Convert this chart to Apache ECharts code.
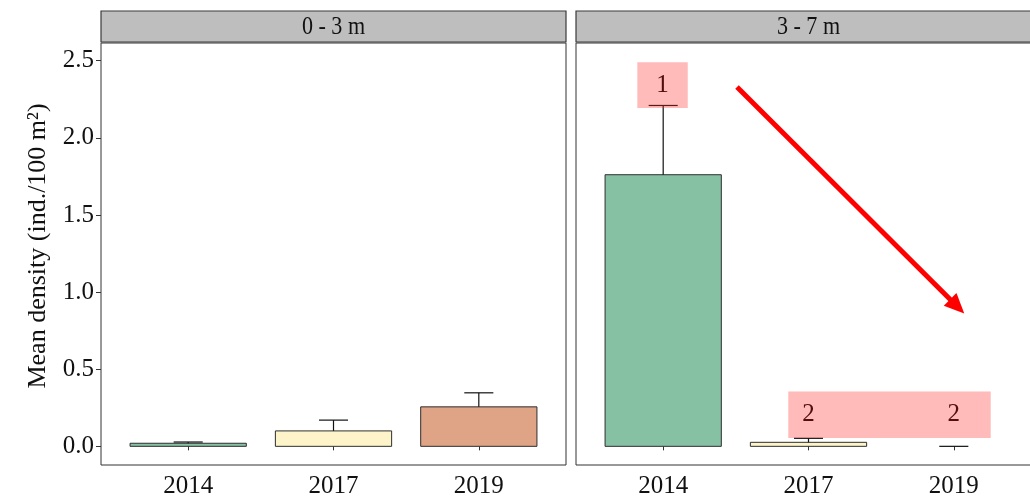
<!DOCTYPE html>
<html>
<head>
<meta charset="utf-8">
<script src="https://cdn.jsdelivr.net/npm/echarts@6/dist/echarts.min.js"></script>
<style>
  html, body { margin: 0; padding: 0; background: #ffffff; overflow: hidden; }
  /* the right-hand facet runs a little past the window edge */
  #chart { width: 1042px; height: 499px; }
</style>
</head>
<body>
<div id="chart"></div>
<script>
// Survey years and depth strata
const years = ['2014', '2017', '2019'];
const panels = ['0 - 3 m', '3 - 7 m'];

// Mean density (ind./100 m²) and upper error limit per year
const shallowMean  = [0.02, 0.10, 0.256];
const shallowUpper = [0.028, 0.17, 0.347];
const deepMean     = [1.761, 0.026, 0];
const deepUpper    = [2.21, 0.052, 0];

// Y tick values
const yTicks = [0, 0.5, 1.0, 1.5, 2.0, 2.5];

// Fill per year
const barColors = ['#86C1A4', '#FDF5C9', '#DFA385'];

// Group labels written over the deep panel (data coordinates)
const groupLabels = [
  { text: '1', x: [0.822, 1.169], y: [2.193, 2.49] },
  { text: '2', x: [1.861, 3.254], y: [0.054, 0.356], marks: [2, 3] }
];

// Trend arrow (data coordinates in the deep panel)
const trendArrow = { from: [1.508, 2.33], to: [3.072, 0.862] };

const FONT = '"Liberation Serif", "Times New Roman", serif';

function toRows(means, uppers) {
  return means.map((m, i) => [i + 1, m, uppers[i], i]);
}

function renderBar(params, api) {
  const x = api.value(0), m = api.value(1), u = api.value(2), c = api.value(3);
  const children = [];
  if (m > 0) {
    const p0 = api.coord([x - 0.4, m]);
    const p1 = api.coord([x + 0.4, 0]);
    children.push({
      type: 'rect',
      shape: { x: p0[0], y: p0[1], width: p1[0] - p0[0], height: p1[1] - p0[1] },
      style: { fill: barColors[c], stroke: '#2e2e2e', lineWidth: 1 }
    });
  }
  const base = api.coord([x, m]);
  const top = api.coord([x, u]);
  const wl = api.coord([x - 0.1, u]);
  const wr = api.coord([x + 0.1, u]);
  if (u > m) {
    children.push({
      type: 'line',
      shape: { x1: base[0], y1: base[1], x2: top[0], y2: top[1] },
      style: { stroke: '#111111', lineWidth: 1.2 }
    });
  }
  children.push({
    type: 'line',
    shape: { x1: wl[0], y1: wl[1], x2: wr[0], y2: wr[1] },
    style: { stroke: '#111111', lineWidth: 1.2 }
  });
  return { type: 'group', children: children };
}

const grids = [
  { left: 101, top: 43, width: 465, height: 424 },
  { left: 576, top: 43, width: 465, height: 424 }
];

function xAxisFor(gi) {
  return {
    type: 'value', gridIndex: gi, min: 0.4, max: 3.6,
    axisLine: { show: false },
    splitLine: { show: false },
    axisTick: { show: true, customValues: [1, 2, 3], length: 4, lineStyle: { color: '#333333' } },
    axisLabel: {
      customValues: [1, 2, 3], margin: 9,
      formatter: v => years[Math.round(v) - 1],
      fontFamily: FONT, fontSize: 25, color: '#111111'
    }
  };
}

const option = {
  backgroundColor: '#ffffff',
  animation: false,
  grid: grids.map(g => Object.assign({ show: true, borderColor: '#333333', borderWidth: 1, backgroundColor: '#ffffff' }, g)),
  xAxis: [xAxisFor(0), xAxisFor(1)],
  yAxis: [
    {
      type: 'value', gridIndex: 0, min: -0.121, max: 2.615,
      name: 'Mean density (ind./100 m²)',
      nameLocation: 'middle', nameGap: 50, nameRotate: 90,
      nameTextStyle: { fontFamily: FONT, fontSize: 26, color: '#111111', padding: [0, 0, 0, 16] },
      axisLine: { show: false },
      splitLine: { show: false },
      axisTick: { show: true, customValues: yTicks, length: 5, lineStyle: { color: '#333333' } },
      axisLabel: {
        customValues: yTicks, margin: 7,
        formatter: v => v.toFixed(1),
        fontFamily: FONT, fontSize: 25, color: '#111111'
      }
    },
    {
      type: 'value', gridIndex: 1, min: -0.121, max: 2.615,
      axisLine: { show: false }, splitLine: { show: false },
      axisTick: { show: false }, axisLabel: { show: false }
    }
  ],
  series: [
    {
      type: 'custom', xAxisIndex: 0, yAxisIndex: 0,
      renderItem: renderBar, data: toRows(shallowMean, shallowUpper), clip: false
    },
    {
      type: 'custom', xAxisIndex: 1, yAxisIndex: 1,
      renderItem: renderBar, data: toRows(deepMean, deepUpper), clip: false
    }
  ]
};

const chart = echarts.init(document.getElementById('chart'), null, { renderer: 'canvas' });
chart.setOption(option);

// Facet strips, group labels and trend arrow
const deepFinder = { xAxisIndex: 1, yAxisIndex: 1 };
const px = p => chart.convertToPixel(deepFinder, p);
const graphics = [];

grids.forEach((g, i) => {
  graphics.push({
    type: 'rect', z: 10,
    shape: { x: g.left, y: 11, width: g.width, height: 31 },
    style: { fill: '#BEBEBE', stroke: '#3a3a3a', lineWidth: 1.2 }
  });
  graphics.push({
    type: 'text', z: 11,
    x: g.left + g.width / 2, y: 27, scaleX: 0.85,
    style: {
      text: panels[i], font: '26px ' + FONT, fill: '#111111',
      align: 'center', verticalAlign: 'middle'
    }
  });
});

groupLabels.forEach(lab => {
  const a = px([lab.x[0], lab.y[1]]);
  const b = px([lab.x[1], lab.y[0]]);
  const textPoints = lab.marks ? lab.marks : [(lab.x[0] + lab.x[1]) / 2];
  textPoints.forEach(xv => {
    const c = px([xv, 0]);
    graphics.push({
      type: 'text', z: 20,
      x: c[0], y: (a[1] + b[1]) / 2,
      style: { text: lab.text, font: '25px ' + FONT, fill: '#000000', align: 'center', verticalAlign: 'middle' }
    });
  });
  graphics.push({
    type: 'rect', z: 30,
    shape: { x: a[0], y: a[1], width: b[0] - a[0], height: b[1] - a[1] },
    style: { fill: 'rgba(255, 40, 40, 0.32)' }
  });
});

(function () {
  const s = px(trendArrow.from), e = px(trendArrow.to);
  const dx = e[0] - s[0], dy = e[1] - s[1];
  const len = Math.hypot(dx, dy);
  const ux = dx / len, uy = dy / len;
  const headLen = 20, headHalf = 9;
  const bx = e[0] - ux * headLen, by = e[1] - uy * headLen;
  graphics.push({
    type: 'line', z: 40,
    shape: { x1: s[0], y1: s[1], x2: bx + ux * 2, y2: by + uy * 2 },
    style: { stroke: '#FF0000', lineWidth: 5 }
  });
  graphics.push({
    type: 'polygon', z: 41,
    shape: { points: [
      [e[0], e[1]],
      [bx - uy * headHalf, by + ux * headHalf],
      [bx + uy * headHalf, by - ux * headHalf]
    ] },
    style: { fill: '#FF0000' }
  });
})();

chart.setOption({ graphic: graphics });
</script>
</body>
</html>
